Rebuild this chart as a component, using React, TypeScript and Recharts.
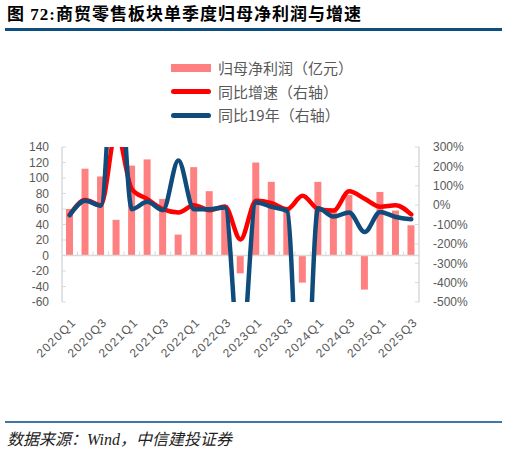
import React from 'react';
import { ComposedChart, Bar, Line, XAxis, YAxis, ReferenceLine } from 'recharts';

const quarters = [
  '2020Q1', '2020Q2', '2020Q3', '2020Q4',
  '2021Q1', '2021Q2', '2021Q3', '2021Q4',
  '2022Q1', '2022Q2', '2022Q3', '2022Q4',
  '2023Q1', '2023Q2', '2023Q3', '2023Q4',
  '2024Q1', '2024Q2', '2024Q3', '2024Q4',
  '2025Q1', '2025Q2', '2025Q3',
];
const netProfit = [60, 112, 102, 46, 116, 124, 73, 27, 114, 83, 65, -23, 120, 95, 60, -35, 95, 59, 78, -44, 82, 58, 39];
const yoyGrowth = [-50, 26, 0, 380, 83, 31, -21, -38, 0, -26, -7, -177, 22, 10, -21, 48, -20, -28, 71, 33, -8, 0, -48];
const vs2019 = [-52, 22, -3, 950, -21, 17, -26, 230, -21, -21, -12, -840, 14, -9, -30, -1400, -16, -59, -38, -139, -35, -61, -73];
const leftTicks = [-60, -40, -20, 0, 20, 40, 60, 80, 100, 120, 140];
const rightTicks = [-500, -400, -300, -200, -100, 0, 100, 200, 300];

const data = quarters.map((q, i) => ({
  q,
  profit: netProfit[i],
  yoy: yoyGrowth[i],
  v19: vs2019[i],
}));

const AXIS_GRAY = '#d9d9d9';
const TEXT_GRAY = '#595959';
const BAR_COLOR = '#ff8080';
const RED = '#ff0000';
const BLUE = '#0f4c7c';

const XTick = (props: any) => {
  const { x, y, payload } = props;
  return (
    <g transform={`translate(${x + 7},${y + 13})`}>
      <text
        x={0}
        y={0}
        transform="rotate(-45)"
        textAnchor="end"
        fontSize={12}
        letterSpacing={1.2}
        fill={TEXT_GRAY}
        fontFamily="'Liberation Sans', Arial, sans-serif"
      >
        {payload.value}
      </text>
    </g>
  );
};

const ZeroLine = (props: any) => {
  const { x1, y1, x2, y2 } = props;
  const n = quarters.length;
  const step = (x2 - x1) / n;
  const ticks = [];
  for (let i = 1; i < n; i++) {
    const tx = x1 + step * i;
    ticks.push(<line key={i} x1={tx} x2={tx} y1={y1} y2={y1 - 4} stroke={AXIS_GRAY} strokeWidth={1} />);
  }
  return (
    <g>
      <line x1={x1} y1={y1} x2={x2} y2={y2} stroke={AXIS_GRAY} strokeWidth={1.5} />
      {ticks}
    </g>
  );
};

const legendItems = [
  { label: '归母净利润（亿元）', type: 'bar', color: BAR_COLOR },
  { label: '同比增速（右轴）', type: 'line', color: RED },
  { label: '同比19年（右轴）', type: 'line', color: BLUE },
];

export default function App() {
  return (
    <div
      style={{
        position: 'absolute',
        left: 0,
        top: 0,
        width: 507,
        height: 452,
        background: '#fff',
        overflow: 'hidden',
      }}
    >
      <div
        style={{
          position: 'absolute',
          left: 7,
          top: 5,
          fontSize: 17,
          fontWeight: 'bold',
          letterSpacing: 1,
          color: '#000',
          fontFamily: "'Liberation Serif', 'Noto Sans CJK SC', serif",
          lineHeight: '20px',
          whiteSpace: 'nowrap',
        }}
      >
        图 72:商贸零售板块单季度归母净利润与增速
      </div>
      <div style={{ position: 'absolute', left: 5, top: 28, width: 497, height: 3, background: '#0e4f80' }} />

      <div style={{ position: 'absolute', left: 0, top: 0 }}>
        <ComposedChart
          width={507}
          height={452}
          data={data}
          margin={{ top: 147, right: 28, bottom: 120, left: 22 }}
        >
          <XAxis
            dataKey="q"
            xAxisId="x"
            interval={1}
            axisLine={false}
            tickLine={false}
            height={30}
            tick={<XTick />}
          />
          <YAxis
            yAxisId="left"
            orientation="left"
            width={40}
            domain={[-60, 140]}
            ticks={leftTicks}
            interval={0}
            allowDataOverflow
            axisLine={{ stroke: AXIS_GRAY, strokeWidth: 1.5 }}
            tickLine={{ stroke: AXIS_GRAY }}
            tickSize={-4}
            tickMargin={17}
            tick={{ fill: TEXT_GRAY, fontSize: 12, fontFamily: "'Liberation Sans', Arial, sans-serif" }}
          />
          <YAxis
            yAxisId="right"
            orientation="right"
            width={60}
            domain={[-500, 300]}
            ticks={rightTicks}
            interval={0}
            allowDataOverflow
            axisLine={{ stroke: AXIS_GRAY, strokeWidth: 1.5 }}
            tickLine={{ stroke: AXIS_GRAY }}
            tickSize={-4}
            tickMargin={18}
            tickFormatter={(v: number) => `${v}%`}
            tick={{ fill: TEXT_GRAY, fontSize: 12, fontFamily: "'Liberation Sans', Arial, sans-serif" }}
          />
          <ReferenceLine xAxisId="x" yAxisId="left" y={0} shape={<ZeroLine />} />
          <Bar xAxisId="x" yAxisId="left" dataKey="profit" fill={BAR_COLOR} barSize={7} isAnimationActive={false} />
          <Line
            xAxisId="x"
            yAxisId="right"
            type="monotone"
            dataKey="yoy"
            stroke={RED}
            strokeWidth={4.5}
            dot={false}
            activeDot={false}
            strokeLinecap="round"
            strokeLinejoin="round"
            isAnimationActive={false}
          />
          <Line
            xAxisId="x"
            yAxisId="right"
            type="monotone"
            dataKey="v19"
            stroke={BLUE}
            strokeWidth={4.5}
            dot={false}
            activeDot={false}
            strokeLinecap="round"
            strokeLinejoin="round"
            isAnimationActive={false}
          />
        </ComposedChart>
      </div>

      <div style={{ position: 'absolute', left: 171, top: 56 }}>
        {legendItems.map((item) => (
          <div
            key={item.label}
            style={{ display: 'flex', alignItems: 'center', height: 23.7, whiteSpace: 'nowrap' }}
          >
            <div
              style={{
                width: 40,
                height: item.type === 'bar' ? 8 : 5,
                borderRadius: item.type === 'bar' ? 0 : 2.5,
                background: item.color,
                marginRight: 7,
              }}
            />
            <span
              style={{
                fontSize: 15,
                color: TEXT_GRAY,
                fontFamily: "'Noto Sans CJK SC', sans-serif",
                lineHeight: '20px',
              }}
            >
              {item.label}
            </span>
          </div>
        ))}
      </div>

      <div style={{ position: 'absolute', left: 5, top: 421, width: 497, height: 2, background: '#3f78a6' }} />
      <div
        style={{
          position: 'absolute',
          left: 7,
          top: 430,
          fontSize: 16,
          fontStyle: 'italic',
          color: '#222',
          fontFamily: "'Liberation Serif', 'Noto Sans CJK SC', serif",
          lineHeight: '20px',
          whiteSpace: 'nowrap',
        }}
      >
        数据来源：Wind，中信建投证券
      </div>
    </div>
  );
}
